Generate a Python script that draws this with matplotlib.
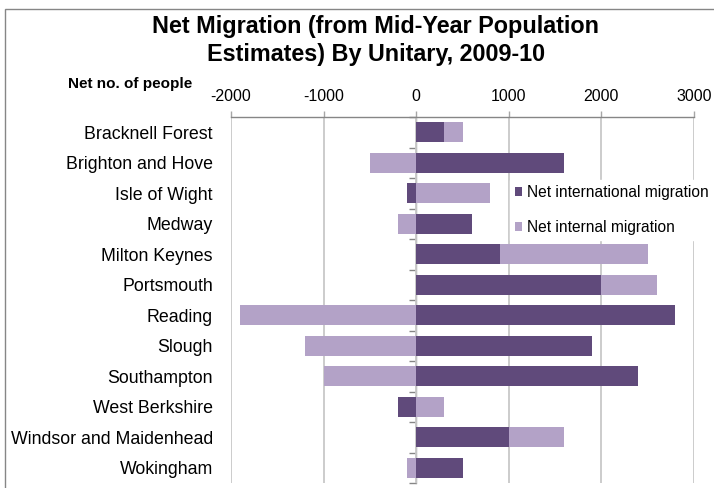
import matplotlib
matplotlib.use("Agg")
import matplotlib.pyplot as plt
from matplotlib.patches import Patch, Rectangle
import numpy as np

categories = ["Bracknell Forest", "Brighton and Hove", "Isle of Wight", "Medway",
              "Milton Keynes", "Portsmouth", "Reading", "Slough", "Southampton",
              "West Berkshire", "Windsor and Maidenhead", "Wokingham"]
international = [300, 1600, -100, 600, 900, 2000, 2800, 1900, 2400, -200, 1000, 500]
internal = [200, -500, 800, -200, 1600, 600, -1900, -1200, -1000, 300, 600, -100]
xticks = [-2000, -1000, 0, 1000, 2000, 3000]

dark = "#604A7B"
light = "#B3A2C7"

plt.rcParams['font.family'] = ['Liberation Sans', 'DejaVu Sans']

fig = plt.figure(figsize=(7.14, 4.88), dpi=100)
ax = fig.add_axes([231/714, 1-483/488, (694-231)/714, (483-117)/488])

y = np.arange(len(categories))
intl = np.array(international, dtype=float)
intn = np.array(internal, dtype=float)

# stacking: positives from 0 to right, negatives from 0 to left
pos_base = np.zeros(len(y))
neg_base = np.zeros(len(y))
h = 0.65
for vals, col in [(intl, dark), (intn, light)]:
    left = np.where(vals >= 0, pos_base, neg_base)
    ax.barh(y, vals, left=left, height=h, color=col, zorder=3)
    pos_base = pos_base + np.where(vals >= 0, vals, 0)
    neg_base = neg_base + np.where(vals < 0, vals, 0)

ax.set_xlim(-2000, 3000)
ax.set_ylim(len(y) - 0.5, -0.5)
ax.set_xticks(xticks)
ax.set_xticklabels([str(t) for t in xticks], fontsize=11.5)
ax.xaxis.tick_top()
ax.tick_params(axis='x', length=4, color='#A6A6A6', pad=5.5, width=1)
ax.grid(axis='x', color='#C8C8C8', linewidth=1.3, zorder=0)
ax.set_yticks(y)
ax.set_yticklabels(categories, fontsize=12.8)
ax.tick_params(axis='y', length=0, pad=13)
for s in ['right', 'bottom', 'left']:
    ax.spines[s].set_visible(False)
ax.spines['top'].set_color('#868686')
ax.spines['top'].set_linewidth(1)

# category axis at zero
sec = ax.secondary_yaxis(2000/5000)
sec.set_yticks(np.arange(-0.5, len(y), 1.0))
sec.set_yticklabels([])
sec.tick_params(axis='y', length=5, color='#868686', width=1, direction='out')
sec.spines['left'].set_color('#A0A0A0')
sec.spines['left'].set_linewidth(1)

handles = [Patch(facecolor=dark, label='Net international migration'),
           Patch(facecolor=light, label='Net internal migration')]
leg = ax.legend(handles=handles, loc='upper left',
                bbox_to_anchor=((510-231)/(694-231), 1 - (180-117)/(483-117)),
                frameon=True, fancybox=False, framealpha=1, edgecolor='white',
                facecolor='white', fontsize=11.2, handlelength=0.5, handleheight=0.5,
                handletextpad=0.3, labelspacing=1.3, borderpad=0.3, borderaxespad=0)
leg.set_zorder(5)

fig.text(376/714, 1-27/488, "Net Migration (from Mid-Year Population", ha='center', va='center',
         fontsize=16.8, fontweight='bold')
fig.text(376/714, 1-54/488, "Estimates) By Unitary, 2009-10", ha='center', va='center',
         fontsize=16.8, fontweight='bold')
fig.text(130/714, 1-84/488, "Net no. of people", ha='center', va='center',
         fontsize=11, fontweight='bold')

# chart border (top and left visible)
fig.patches.append(Rectangle((4.5/714, -0.1), 1.2, 1 - 9/488 + 0.1, transform=fig.transFigure,
                             fill=False, edgecolor='#868686', linewidth=1))

fig.savefig("out.png", dpi=100)
